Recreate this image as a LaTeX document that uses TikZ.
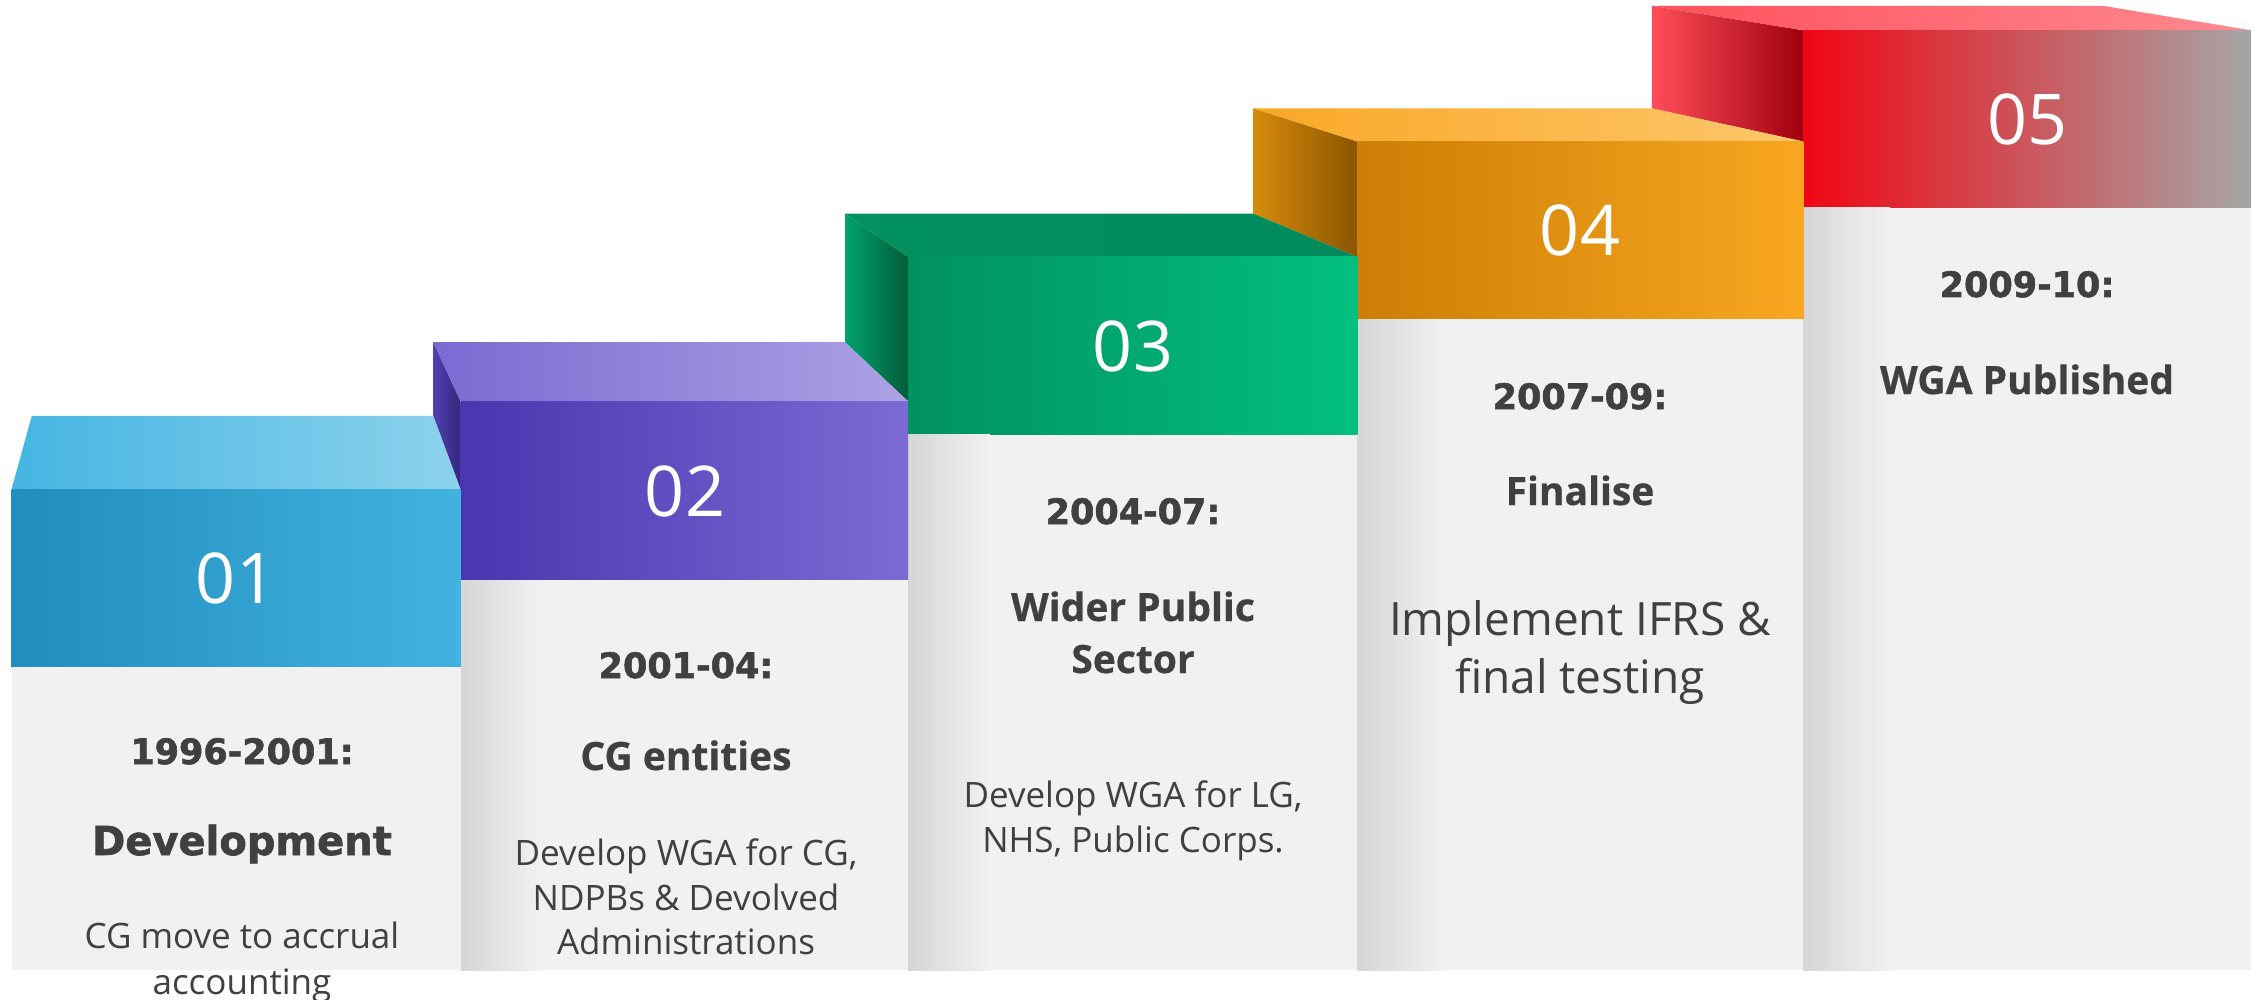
\documentclass[tikz,border=0pt]{standalone}
\usepackage{fontspec}
\setmainfont{Open Sans}[BoldFeatures={FakeBold=0.6}]
\newfontfamily\heavy{DejaVu Sans}[BoldFeatures={FakeBold=1.6}]
\definecolor{txt}{HTML}{404040}
\definecolor{bodyL}{HTML}{D6D6D6}
\definecolor{bodyF}{HTML}{F1F1F1}
% block 1
\definecolor{aTopL}{HTML}{45B5E3}\definecolor{aTopR}{HTML}{8DD2EC}
\definecolor{aBandL}{HTML}{1F8DBD}\definecolor{aBandR}{HTML}{42B3E0}
% block 2
\definecolor{bSideL}{HTML}{5040B4}\definecolor{bSideR}{HTML}{33277A}
\definecolor{bTopL}{HTML}{7B6AD2}\definecolor{bTopR}{HTML}{ACA2E4}
\definecolor{bBandL}{HTML}{4936B0}\definecolor{bBandR}{HTML}{7C6AD4}
% block 3
\definecolor{cSideL}{HTML}{02A26C}\definecolor{cSideR}{HTML}{005C3B}
\definecolor{cTopL}{HTML}{03915F}\definecolor{cTopR}{HTML}{028A5C}
\definecolor{cBandL}{HTML}{01915F}\definecolor{cBandR}{HTML}{02BF80}
% block 4
\definecolor{dSideL}{HTML}{D68B0C}\definecolor{dSideR}{HTML}{8A5500}
\definecolor{dTopL}{HTML}{F9A825}\definecolor{dTopR}{HTML}{FDC66C}
\definecolor{dBandL}{HTML}{CC7E05}\definecolor{dBandR}{HTML}{F9A720}
% block 5
\definecolor{eSideL}{HTML}{FF4D5A}\definecolor{eSideR}{HTML}{A0000E}
\definecolor{eTopL}{HTML}{FF505D}\definecolor{eTopR}{HTML}{FF8A90}
\definecolor{eBandL}{HTML}{F00612}\definecolor{eBandR}{HTML}{A6A6A6}
\begin{document}
\begin{tikzpicture}[x=1pt,y=-1pt,
  num/.style={text=white, inner sep=0pt, anchor=center, font=\fontsize{70}{70}\selectfont},
  yeartxt/.style={text=txt, inner sep=0pt, anchor=base, font=\heavy\bfseries\fontsize{35}{40}\selectfont},
  bigtxt/.style={text=txt, inner sep=0pt, anchor=base, font=\heavy\bfseries\fontsize{40}{46}\selectfont},
  headtxt/.style={text=txt, inner sep=0pt, anchor=base, font=\bfseries\fontsize{39}{48}\selectfont},
  bodytxt/.style={text=txt, inner sep=0pt, anchor=base, font=\fontsize{35}{45}\selectfont},
  largetxt/.style={text=txt, inner sep=0pt, anchor=base, font=\fontsize{46}{58}\selectfont}
]
\useasboundingbox (0,0) rectangle (2264,1000);
\fill[white] (0,0) rectangle (2264,1000);

% ---------- block 5 ----------
\shade[left color=eSideL, right color=eSideR] (1651.8,5.8) -- (1803.4,30.3) -- (1803.4,141.5) -- (1651.8,108.3) -- cycle;
\shade[left color=eTopL, right color=eTopR] (1651.8,5.8) -- (2103,5.8) -- (2251,30.3) -- (1803.4,30.3) -- cycle;
\shade[left color=eBandL, right color=eBandR] (1803.4,30.3) rectangle (2251,207.9);
\fill[bodyF] (1803.4,207.9) rectangle (2251,970);
\shade[left color=bodyL, right color=bodyF] (1803.4,207.9) rectangle (1890,970);
\node[num] (n5) at (2027,119) {05};
\node[yeartxt] (y5) at (2027,297) {2009-10:};
\node[headtxt] (h5) at (2027,394) {WGA Published};

% ---------- block 4 ----------
\shade[left color=dSideL, right color=dSideR] (1253.3,108.3) -- (1357.3,141.5) -- (1357.3,257) -- (1253.3,213.7) -- cycle;
\shade[left color=dTopL, right color=dTopR] (1253.3,108.3) -- (1651.8,108.3) -- (1803.4,141.5) -- (1357.3,141.5) -- cycle;
\shade[left color=dBandL, right color=dBandR] (1357.3,141.5) rectangle (1803.4,319.1);
\fill[bodyF] (1357.3,319.1) rectangle (1803.4,970);
\shade[left color=bodyL, right color=bodyF] (1357.3,319.1) rectangle (1442,970);
\node[num] (n4) at (1580,230) {04};
\node[yeartxt] (y4) at (1580,409) {2007-09:};
\node[headtxt] (h4) at (1580,505) {Finalise};
\node[largetxt] (b4a) at (1580,635) {Implement IFRS \&};
\node[largetxt] (b4b) at (1580,693) {final testing};

% ---------- block 3 ----------
\shade[left color=cSideL, right color=cSideR] (845,213.7) -- (908.2,257) -- (908.2,401.4) -- (845,342.2) -- cycle;
\shade[left color=cTopL, right color=cTopR] (845,213.7) -- (1253.3,213.7) -- (1357.3,257) -- (908.2,257) -- cycle;
\shade[left color=cBandL, right color=cBandR] (908.2,257) rectangle (1357.3,434.6);
\fill[bodyF] (908.2,434.6) rectangle (1357.3,970);
\shade[left color=bodyL, right color=bodyF] (908.2,434.6) rectangle (990,970);
\node[num] (n3) at (1133,346) {03};
\node[yeartxt] (y3) at (1133,524) {2004-07:};
\node[headtxt] (h3a) at (1133,621) {Wider Public};
\node[headtxt] (h3b) at (1133,673) {Sector};
\node[bodytxt] (b3a) at (1133,807) {Develop WGA for LG,};
\node[bodytxt] (b3b) at (1133,852) {NHS, Public Corps.};

% ---------- block 2 ----------
\shade[left color=bSideL, right color=bSideR] (433.2,342.2) -- (460.6,401.4) -- (460.6,489.5) -- (433.2,415.8) -- cycle;
\shade[left color=bTopL, right color=bTopR] (433.2,342.2) -- (845,342.2) -- (908.2,401.4) -- (460.6,401.4) -- cycle;
\shade[left color=bBandL, right color=bBandR] (460.6,401.4) rectangle (908.2,580.4);
\fill[bodyF] (460.6,580.4) rectangle (908.2,970);
\shade[left color=bodyL, right color=bodyF] (460.6,580.4) rectangle (540,970);
\node[num] (n2) at (685,491) {02};
\node[yeartxt] (y2) at (686,678) {2001-04:};
\node[headtxt] (h2) at (686,770) {CG entities};
\node[bodytxt] (b2a) at (686,865) {Develop WGA for CG,};
\node[bodytxt] (b2b) at (686,910) {NDPBs \& Devolved};
\node[bodytxt] (b2c) at (686,954) {Administrations};

% ---------- block 1 ----------
\shade[left color=aTopL, right color=aTopR] (31.8,415.8) -- (433.2,415.8) -- (460.6,489.5) -- (11.5,489.5) -- cycle;
\shade[left color=aBandL, right color=aBandR] (11.5,489.5) rectangle (460.6,667);
\fill[bodyF] (11.5,667) rectangle (460.6,970);
\node[num] (n1) at (236,578) {01};
\node[yeartxt] (y1) at (242,764) {1996-2001:};
\node[bigtxt] (h1) at (242,855) {Development};
\node[bodytxt] (b1a) at (242,948) {CG move to accrual};
\node[bodytxt] (b1b) at (242,994) {accounting};
\end{tikzpicture}
\end{document}
